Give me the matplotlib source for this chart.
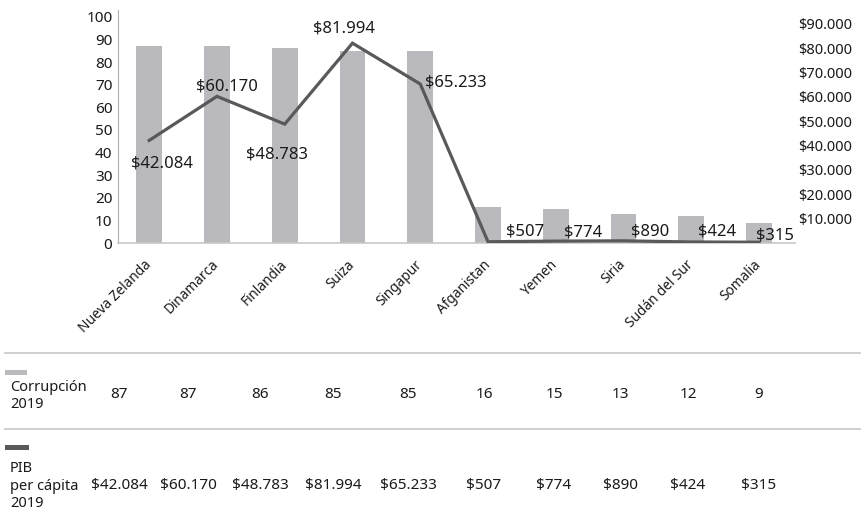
import matplotlib
matplotlib.use("Agg")
from matplotlib import pyplot as plt, transforms
from matplotlib.patches import Rectangle
from matplotlib.lines import Line2D
from matplotlib.ticker import FuncFormatter

# data
paises = ["Nueva Zelanda", "Dinamarca", "Finlandia", "Suiza", "Singapur",
          "Afganistan", "Yemen", "Siria", "Sudán del Sur", "Somalia"]
corrupcion = [87, 87, 86, 85, 85, 16, 15, 13, 12, 9]
pib = [42084, 60170, 48783, 81994, 65233, 507, 774, 890, 424, 315]

plt.rcParams['font.family'] = ['Noto Sans', 'DejaVu Sans']

BAR = '#b9b9be'
LINE = '#59595b'
TXT = '#1a1a1a'


def pesos(v):
    return '$' + format(int(v), ',').replace(',', '.')


W, H = 866, 521
fig = plt.figure(figsize=(W / 100, H / 100), dpi=100)

# plot area in pixels: x 118..795, y 10..243
ax = fig.add_axes([118 / W, 1 - 243 / H, (795 - 118) / W, (243 - 10) / H])
x = list(range(len(paises)))
ax.bar(x, corrupcion, width=0.38, color=BAR, zorder=1)
ax.set_xlim(-0.46, 9.53)
ax.set_ylim(0, 103)
ax.set_yticks(range(0, 101, 10))
ax.set_xticks(x)
ax.set_xticklabels(paises, rotation=45, ha='right', va='center',
                   rotation_mode='anchor', fontsize=9.8, color=TXT)
shift = transforms.ScaledTranslation(10 / 100, 2 / 100, fig.dpi_scale_trans)
for lab in ax.get_xticklabels():
    lab.set_transform(lab.get_transform() + shift)
ax.tick_params(axis='x', length=0, pad=14)
ax.tick_params(axis='y', length=0, pad=4, labelsize=11, labelcolor=TXT)
for s in ['top', 'right']:
    ax.spines[s].set_visible(False)
ax.spines['left'].set_color('#b0b0b0')
ax.spines['bottom'].set_color('#c8c8c8')
ax.spines['bottom'].set_linewidth(1.2)

ax2 = ax.twinx()
ax2.plot(x, pib, color=LINE, lw=2.3, solid_joinstyle='miter', zorder=3)
ax2.set_ylim(0, 95600)
ax2.set_yticks(range(10000, 90001, 10000))
ax2.yaxis.set_major_formatter(FuncFormatter(lambda v, p: pesos(v)))
ax2.tick_params(axis='y', length=0, pad=2, labelsize=10.5, labelcolor=TXT)
for s in ax2.spines.values():
    s.set_visible(False)

# line labels, offsets in pixels from each point
offs = [(13, -23), (10, 10), (-8, -30), (-8, 15), (36, 2),
        (37, 10), (27, 9), (27, 9), (26, 10), (16, 7)]
for i, v in enumerate(pib):
    ax2.annotate(pesos(v), (i, v), xytext=offs[i], textcoords='offset pixels',
                 ha='center', va='center', fontsize=12, color=TXT, zorder=4)

# table below (column centres in pixels, as laid out in the original)
col_px = [119, 188, 260, 333, 408, 484, 554, 620, 688, 759]


def fy(py):
    return 1 - py / H


for py in (353, 429):
    fig.add_artist(Line2D([5 / W, 860 / W], [fy(py), fy(py)], color='#cfcfcf', lw=1.4))

fig.add_artist(Rectangle((5 / W, fy(375)), 22 / W, 5 / H, color=BAR, lw=0))
fig.add_artist(Rectangle((5 / W, fy(450)), 24 / W, 5 / H, color=LINE, lw=0))

fig.text(10 / W, fy(396), "Corrupción\n2019", ha='left', va='center',
         fontsize=10.5, color=TXT, linespacing=1.25)
fig.text(10 / W, fy(486), "PIB\nper cápita\n2019", ha='left', va='center',
         fontsize=10.5, color=TXT, linespacing=1.25)

for i in x:
    fig.text(col_px[i] / W, fy(394), str(corrupcion[i]), ha='center',
             va='center', fontsize=11, color=TXT)
    fig.text(col_px[i] / W, fy(485), pesos(pib[i]), ha='center',
             va='center', fontsize=11, color=TXT)

fig.savefig('out.png', dpi=100)
